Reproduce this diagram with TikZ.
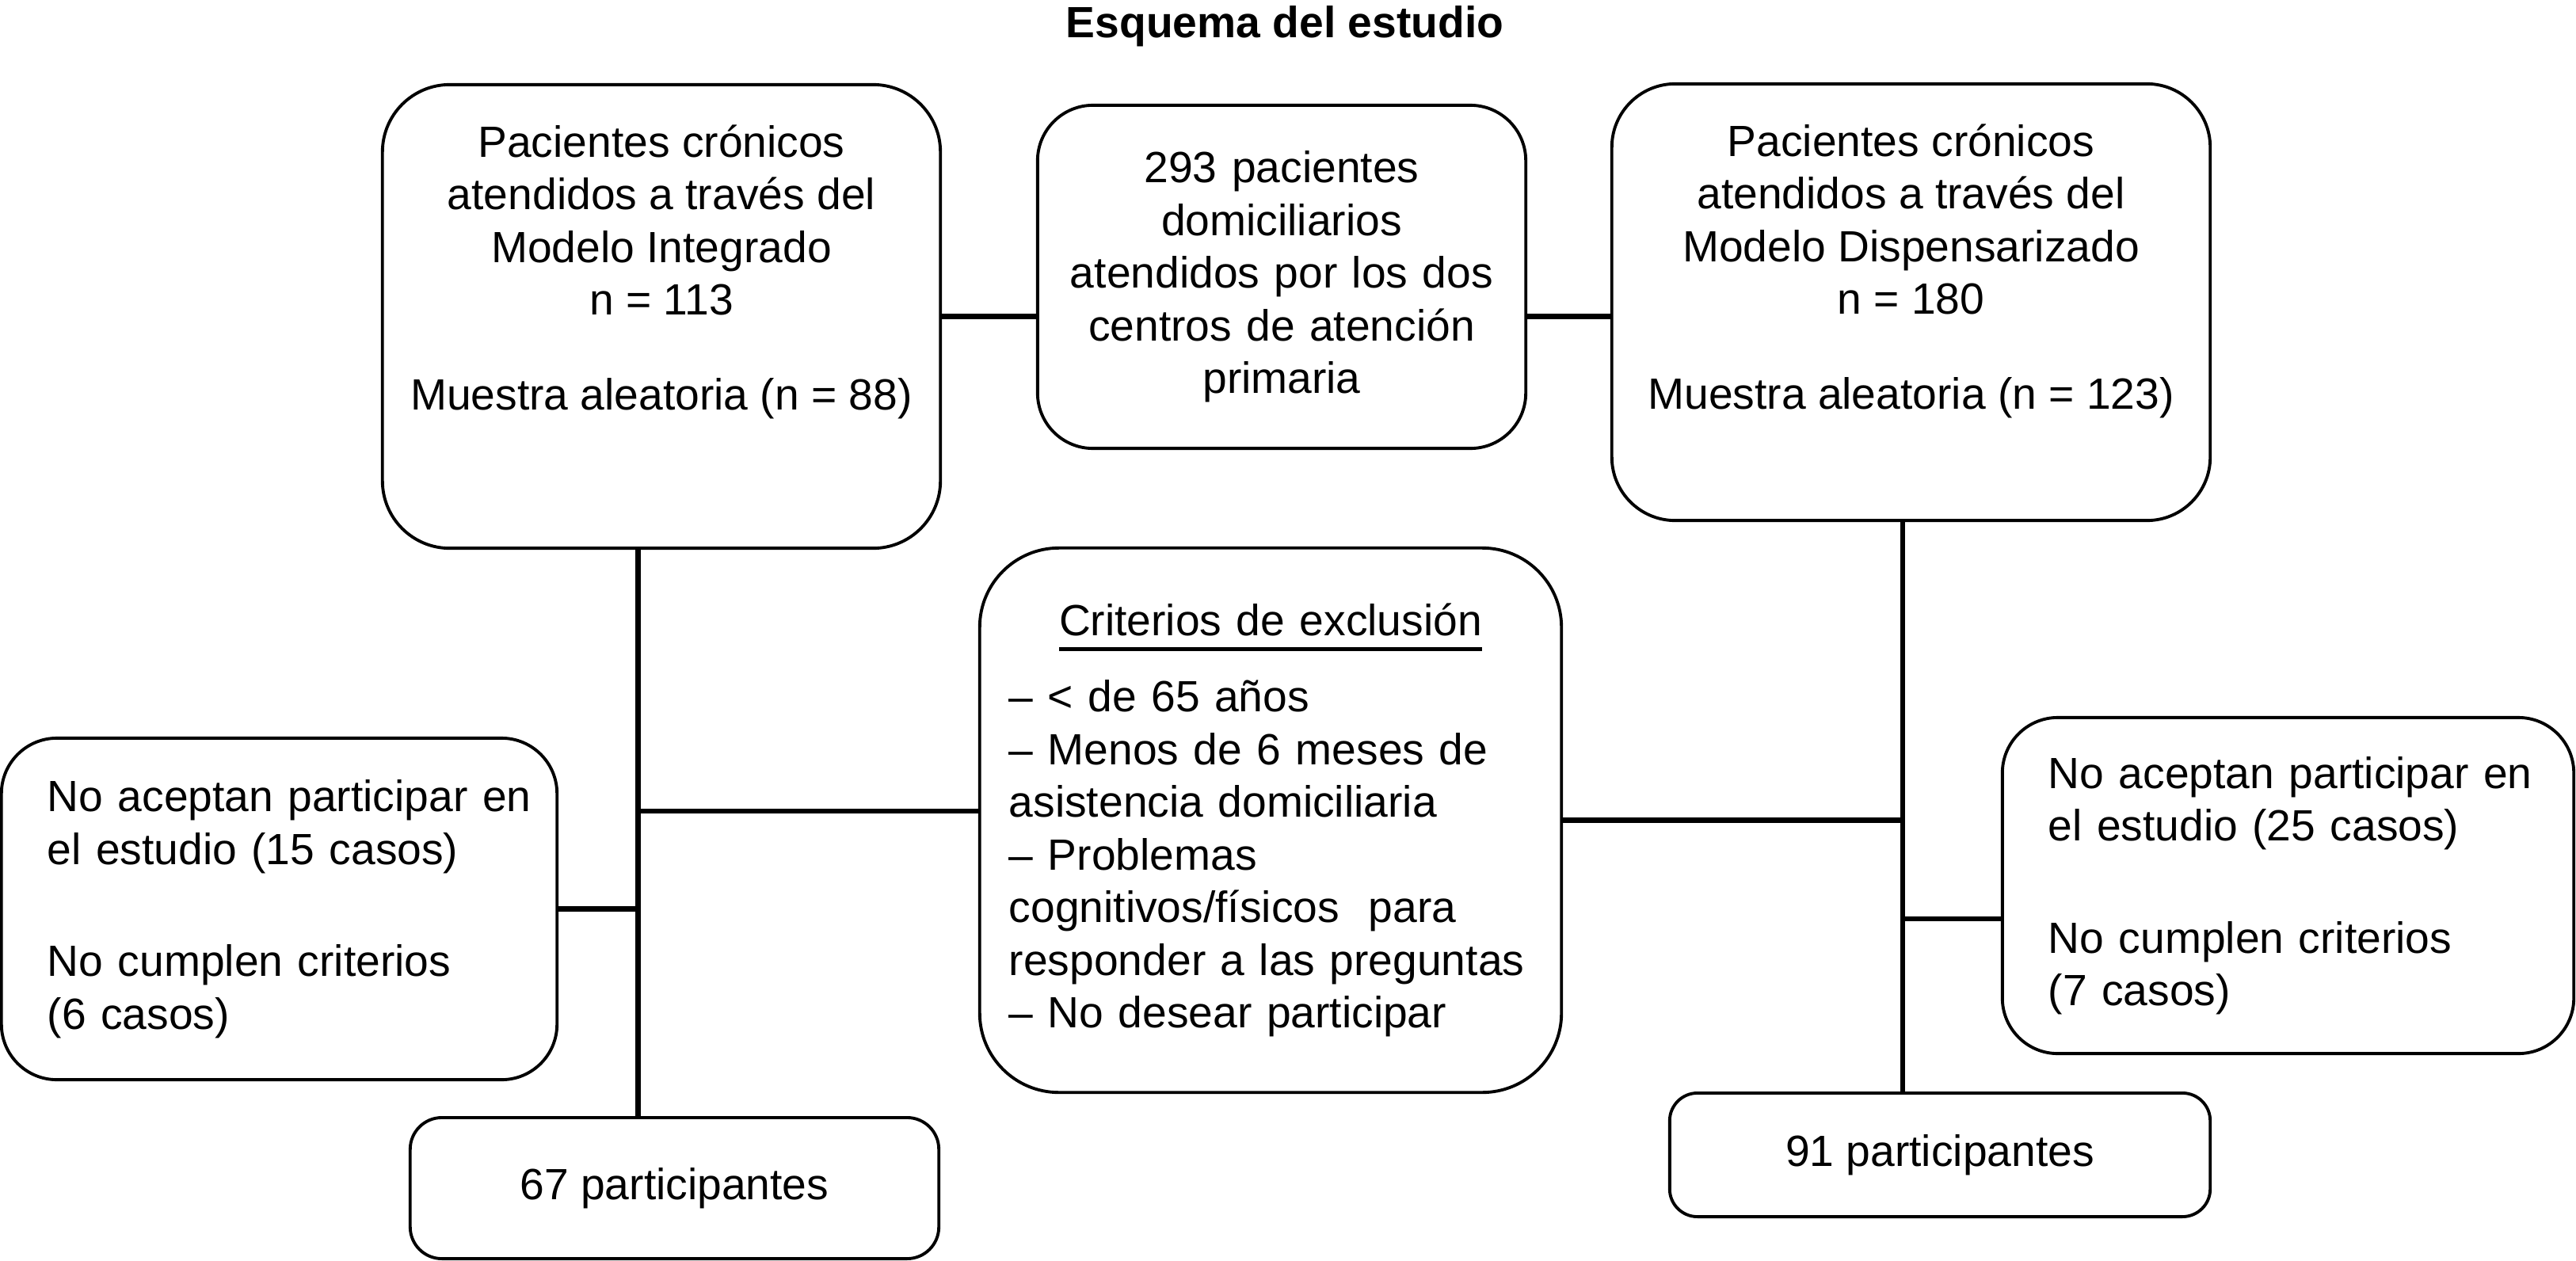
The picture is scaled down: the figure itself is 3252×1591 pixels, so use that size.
\documentclass[tikz,border=0pt]{standalone}
\usepackage{fontspec}
\setmainfont{Liberation Sans}
\usetikzlibrary{positioning,calc}

\newcommand{\critul}[1]{\vtop{\hbox{#1}\kern4pt\hrule height1.5pt}}

\tikzset{
  box/.style={rectangle,draw=black,line width=1.1pt,inner sep=0pt,
              font=\fontsize{15.7}{18.9}\selectfont},
  link/.style={line width=1.8pt}
}

\begin{document}
\begin{tikzpicture}[x=0.01cm,y=-0.01cm]
  \fill[white] (0,0) rectangle (3252,1591);
  \useasboundingbox (0,0) rectangle (3252,1591);

  \node[font=\fontsize{15.7}{18.9}\selectfont\bfseries,anchor=base]
       (titulo) at (1622,48) {Esquema del estudio};

  % fila superior
  \node[box,rounded corners=0.85cm,minimum width=7.04cm,minimum height=5.85cm]
       (integ) at (835,399.5)
       {\parbox[c][5.85cm][t]{6.9cm}{\centering\vspace*{0.51cm}%
        Pacientes crónicos\\atendidos a través del\\Modelo Integrado\\n = 113\\[0.53cm]%
        Muestra aleatoria (n = 88)}};
  \node[box,rounded corners=0.7cm,minimum width=6.16cm,minimum height=4.33cm,
        text width=5.8cm,align=center]
       (domic) at (1618,349.5)
       {293 pacientes\\domiciliarios\\atendidos por los dos\\centros de atención\\primaria};
  \node[box,rounded corners=0.8cm,minimum width=7.55cm,minimum height=5.51cm]
       (dispen) at (2412.5,381.5)
       {\parbox[c][5.51cm][t]{7.3cm}{\centering\vspace*{0.51cm}%
        Pacientes crónicos\\atendidos a través del\\Modelo Dispensarizado\\n = 180\\[0.53cm]%
        Muestra aleatoria (n = 123)}};

  % criterios y rechazos
  \node[box,rounded corners=1cm,minimum width=7.34cm,minimum height=6.87cm,
        text width=6.6cm,align=left]
       (exclu) at (1604,1035.5)
       {\makebox[6.6cm]{\critul{Criterios de exclusión}}\\[0.3cm]
        – < de 65 años\\– Menos de 6 meses de\\asistencia domiciliaria\\– Problemas\\
        cognitivos/físicos\ \ para\\responder a las preguntas\\– No desear participar};
  \node[box,rounded corners=0.7cm,minimum width=7.01cm,minimum height=4.31cm,
        text width=5.85cm,align=left]
       (rechizq) at (352.5,1147.5)
       {\mbox{No aceptan participar en}\\el estudio (15 casos)\\[0.75cm]No cumplen criterios\\(6 casos)};
  \node[box,rounded corners=0.7cm,minimum width=7.21cm,minimum height=4.24cm,
        text width=6.05cm,align=left]
       (rechder) at (2888.5,1118)
       {\mbox{No aceptan participar en}\\el estudio (25 casos)\\[0.75cm]No cumplen criterios\\(7 casos)};

  % participantes
  \node[box,rounded corners=0.4cm,minimum width=6.67cm,minimum height=1.78cm]
       (partizq) at (851.5,1500) {67 participantes};
  \node[box,rounded corners=0.35cm,minimum width=6.82cm,minimum height=1.56cm]
       (partder) at (2449,1458) {91 participantes};

  % conexiones
  \draw[link] (integ.east) -- (integ.east -| domic.west);
  \draw[link] (integ.east -| domic.east) -- (integ.east -| dispen.west);
  \draw[link] ([xshift=-0.295cm]integ.south) coordinate (espizq) -- (espizq |- partizq.north);
  \draw[link] (rechizq.east) -- (rechizq.east -| espizq);
  \draw[link] ([yshift=0.115cm]exclu.west) -- ([yshift=0.115cm]exclu.west -| espizq);
  \draw[link] ([xshift=-0.105cm]dispen.south) coordinate (espder) -- (espder |- partder.north);
  \draw[link] (exclu.east) -- (exclu.east -| espder);
  \draw[link] ([yshift=-0.42cm]rechder.west) -- ([yshift=-0.42cm]rechder.west -| espder);
\end{tikzpicture}
\end{document}
